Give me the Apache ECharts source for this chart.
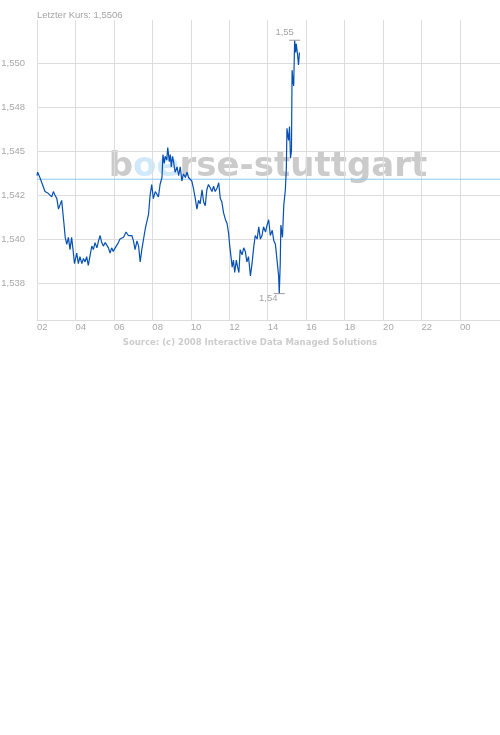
<!DOCTYPE html>
<html>
<head>
<meta charset="utf-8">
<script src="https://cdn.jsdelivr.net/npm/echarts/dist/echarts.min.js"></script>
<style>
  html, body { margin: 0; padding: 0; background: #fff; }
  #chart { width: 500px; height: 735px; }
</style>
</head>
<body>
<div id="chart"></div>
<script>
// ---- data ----
const times = [
  "02:00","02:02","02:09","02:15","02:25","02:35","02:41","02:46","02:51","02:56",
  "03:02","03:07","03:12","03:17","03:20","03:24","03:28","03:33","03:38","03:43","03:48","03:53","03:57",
  "04:04","04:09","04:14","04:20","04:25","04:30","04:35","04:40","04:46","04:51","04:56",
  "05:01","05:07","05:12","05:17","05:22","05:27","05:33","05:38","05:43","05:48","05:53","05:58",
  "06:04","06:09","06:14","06:19","06:25","06:30","06:38","06:45","06:56",
  "07:01","07:06","07:12","07:17","07:22","07:27","07:32","07:38","07:43","07:48","07:53","07:58",
  "08:03","08:09","08:14","08:19","08:24","08:30","08:33","08:37","08:40","08:45","08:48","08:53","08:56","08:59",
  "09:03","09:06","09:11","09:17","09:22","09:27","09:32","09:37","09:43","09:48","09:53","09:58",
  "10:03","10:08","10:14","10:19","10:24","10:29","10:35","10:40","10:45","10:50","10:55",
  "11:01","11:06","11:11","11:16","11:22","11:27","11:32","11:37","11:42","11:48","11:53","11:58",
  "12:01","12:06","12:09","12:13","12:17","12:22","12:26","12:30","12:34","12:40","12:45","12:50","12:55",
  "13:00","13:06","13:11","13:16","13:21","13:27","13:32","13:37","13:42","13:47","13:53","13:58",
  "14:03","14:08","14:14","14:19","14:24","14:29","14:34","14:36","14:39","14:41","14:46","14:50","14:55","14:58",
  "15:00","15:05","15:08","15:11","15:14","15:16","15:19","15:21","15:24","15:27","15:29","15:33","15:36","15:39"
];
const prices = [
  1.5436,1.5438,1.5435,1.5432,1.5427,1.5426,1.5427,1.5424,1.5427,1.5425,
  1.5423,1.5417,1.5418,1.5422,1.5421,1.5409,1.5401,1.5397,1.5401,1.5394,1.5401,1.5393,1.5386,
  1.5392,1.5386,1.5390,1.5386,1.5389,1.5387,1.5390,1.5385,1.5391,1.5396,1.5394,
  1.5398,1.5395,1.5399,1.5402,1.5398,1.5396,1.5398,1.5398,1.5395,1.5392,1.5395,1.5393,
  1.5395,1.5395,1.5398,1.5400,1.5399,1.5401,1.5404,1.5402,1.5402,
  1.5399,1.5394,1.5399,1.5396,1.5387,1.5394,1.5393,1.5406,1.5410,1.5414,1.5425,1.5431,
  1.5423,1.5427,1.5427,1.5424,1.5431,1.5435,1.5448,1.5443,1.5447,1.5445,1.5452,1.5444,1.5448,1.5441,
  1.5447,1.5444,1.5438,1.5441,1.5436,1.5441,1.5433,1.5437,1.5435,1.5438,1.5435,1.5436,
  1.5433,1.5429,1.5423,1.5417,1.5422,1.5420,1.5428,1.5421,1.5419,1.5428,1.5431,
  1.5429,1.5427,1.5430,1.5427,1.5429,1.5432,1.5423,1.5421,1.5415,1.5411,1.5409,1.5403,
  1.5397,1.5389,1.5384,1.5388,1.5381,1.5388,1.5384,1.5381,1.5394,1.5391,1.5395,1.5393,1.5387,
  1.5390,1.5379,1.5386,1.5395,1.5402,1.5400,1.5407,1.5400,1.5402,1.5407,1.5404,1.5408,
  1.5411,1.5402,1.5405,1.5399,1.5397,1.5388,1.5379,1.5369,1.5386,1.5408,1.5401,1.5419,1.5428,1.5440,
  1.5463,1.5456,1.5464,1.5446,1.5450,1.5496,1.5489,1.5487,1.5513,1.5506,1.5511,1.5505,1.5499,1.5506
];
const lastPrice = 1.5506;
const refLevel = 1.5434;
const yTickValues = [1.5375, 1.5400, 1.5425, 1.5450, 1.5475, 1.5500];
const yTickLabels = ["1,538", "1,540", "1,542", "1,545", "1,548", "1,550"];
const xTickValues = [2, 4, 6, 8, 10, 12, 14, 16, 18, 20, 22, 24];
const xTickLabels = ["02", "04", "06", "08", "10", "12", "14", "16", "18", "20", "22", "00"];
const titleText = "Letzter Kurs: ";
const sourceText = "Source: (c) 2008 Interactive Data Managed Solutions";

// ---- build ----
const X_MIN = 2, X_MAX = 26.08;
function toHours(t) { const p = t.split(":"); return +p[0] + (+p[1]) / 60; }
const seriesData = times.map((t, i) => [toHours(t), prices[i]]);
const comma = (v, d) => v.toFixed(d).replace(".", ",");

const FONT = '"Liberation Sans", Arial, sans-serif';
const chart = echarts.init(document.getElementById("chart"), null, { renderer: "canvas" });
chart.setOption({
  animation: false,
  backgroundColor: "#ffffff",
  title: {
    text: titleText + comma(lastPrice, 4),
    left: 32, top: 5,
    textStyle: { fontSize: 9.5, fontWeight: "normal", color: "#a4a4a4", fontFamily: FONT }
  },
  graphic: [
    {
      type: "text", z: 0, silent: true,
      style: {
        text: "{a|b}{b|oe}{a|rse-stuttgart}",
        x: 268, y: 167, align: "center", verticalAlign: "middle",
        rich: {
          a: { fill: "#cbcbcb", fontSize: 34, fontWeight: "bold", fontFamily: '"DejaVu Sans", Verdana, sans-serif' },
          b: { fill: "#cfe9fb", fontSize: 34, fontWeight: "bold", fontFamily: '"DejaVu Sans", Verdana, sans-serif' }
        }
      }
    },
    {
      type: "text", z: 0, silent: true,
      style: {
        text: sourceText, x: 250, y: 343, align: "center", verticalAlign: "middle",
        fill: "#cccccc", fontSize: 8.5, fontWeight: "bold", fontFamily: '"DejaVu Sans", Verdana, sans-serif'
      }
    }
  ],
  grid: { left: 37, top: 20, right: 0, bottom: 415, containLabel: false, outerBoundsMode: "none" },
  xAxis: {
    type: "value", min: X_MIN, max: X_MAX,
    axisLine: { show: true, onZero: false, lineStyle: { color: "#dddddd", width: 1 } },
    axisTick: { show: false, customValues: xTickValues },
    splitLine: { show: true, lineStyle: { color: "#dddddd", width: 1 } },
    axisLabel: {
      customValues: xTickValues,
      formatter: v => { const i = xTickValues.indexOf(v); return i >= 0 ? xTickLabels[i] : ""; },
      align: "left", margin: 2, color: "#a8a8a8", fontSize: 9.5, fontFamily: FONT,
      showMinLabel: true, showMaxLabel: true
    }
  },
  yAxis: {
    type: "value", min: 1.53540, max: 1.55245,
    axisLine: { show: false, onZero: false },
    axisTick: { show: false, customValues: yTickValues },
    splitLine: { show: true, lineStyle: { color: "#dddddd", width: 1 } },
    axisLabel: {
      customValues: yTickValues,
      formatter: v => {
        let best = -1, d = 1;
        yTickValues.forEach((t, i) => { if (Math.abs(t - v) < d) { d = Math.abs(t - v); best = i; } });
        return d < 1e-6 ? yTickLabels[best] : "";
      },
      margin: 12, color: "#a8a8a8", fontSize: 9.5, fontFamily: FONT
    }
  },
  series: [
    {
      type: "line",
      data: [[X_MIN, refLevel], [X_MAX, refLevel]],
      showSymbol: false, symbol: "none", silent: true, z: 2,
      lineStyle: { color: "#8ec9f4", width: 1 }
    },
    {
      type: "line",
      data: seriesData,
      showSymbol: false,
      symbol: "none",
      z: 3,
      lineStyle: { color: "#0650b4", width: 1.2 },
      itemStyle: { color: "#0650b4" },
      markPoint: {
        silent: true, animation: false,
        symbol: "rect", symbolSize: [11, 1],
        itemStyle: { color: "#9a9a9a" },
        label: {
          show: true, color: "#a4a4a4", fontSize: 9.5, fontFamily: FONT,
          formatter: p => comma(p.value, 2)
        },
        data: [
          { type: "max", valueDim: "y", label: { position: "inside", offset: [-10, -8] } },
          { type: "min", valueDim: "y", label: { position: "inside", offset: [-11, 5] } }
        ]
      }
    }
  ]
});
</script>
</body>
</html>
